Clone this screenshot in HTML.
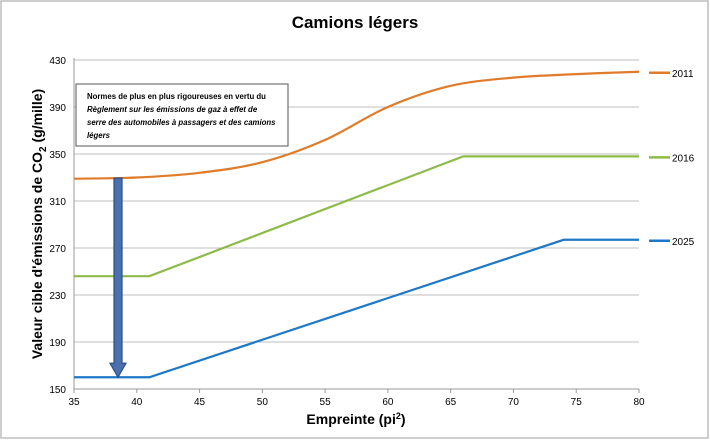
<!DOCTYPE html>
<html><head><meta charset="utf-8"><style>
body{margin:0;background:#fff;font-family:"Liberation Sans",sans-serif}
svg text{font-family:"Liberation Sans",sans-serif}
</style></head><body>
<svg id="chart" width="710" height="440" xmlns="http://www.w3.org/2000/svg">
<rect x="1" y="1" width="707" height="437" fill="#fff" stroke="#bdbdbd" stroke-width="1.5"/>
<text x="355" y="28" text-anchor="middle" font-size="17" font-weight="bold">Camions légers</text>
<g id="grid"></g>
<g id="axes"></g>
<g id="series"></g>
<text transform="translate(42,224) rotate(-90)" text-anchor="middle" font-size="14" font-weight="bold">Valeur cible d'émissions de CO<tspan font-size="10" dy="4">2</tspan><tspan dy="-4"> (g/mille)</tspan></text>
<text x="356" y="424" text-anchor="middle" font-size="14" font-weight="bold">Empreinte (pi<tspan font-size="9" dy="-5">2</tspan><tspan dy="5">)</tspan></text>
<g>
<rect x="76" y="84" width="212" height="62" fill="#fff" stroke="#555" stroke-width="1"/>
<text font-size="7.8" font-weight="bold" fill="#000">
<tspan x="87" y="99">Normes de plus en plus rigoureuses en vertu du</tspan>
<tspan x="87" y="112" font-style="italic">Règlement sur les émissions de gaz à effet de</tspan>
<tspan x="87" y="125" font-style="italic">serre des automobiles à passagers et des camions</tspan>
<tspan x="87" y="138" font-style="italic">légers</tspan>
</text>
</g>
<g id="arrow"></g>
</svg>
<script>
const xTicks=[35,40,45,50,55,60,65,70,75,80];
const yTicks=[150,190,230,270,310,350,390,430];
const seriesNames=["2011","2016","2025"];
const x2011=[35,40,45,50,55,60,65,70,75,80];
const y2011=[329,330,334,343,362,390,408,415,418,420];
const x2016=[35,41,66,80];
const y2016=[246,246,348,348];
const x2025=[35,41,74,80];
const y2025=[160,160,277,277];
const colors=["#e07b2a","#8dbb4a","#1f77c8"];
const NS="http://www.w3.org/2000/svg";
const L=74,R=639,T=60,B=389;
const xs=v=>L+(v-35)/(80-35)*(R-L);
const ys=v=>B-(v-150)/(430-150)*(B-T);
function mk(t,a,p){const e=document.createElementNS(NS,t);for(const k in a)e.setAttribute(k,a[k]);p.appendChild(e);return e;}
const grid=document.getElementById('grid'),axes=document.getElementById('axes'),ser=document.getElementById('series');
yTicks.forEach(v=>{
 const l=mk('line',{x1:L,x2:R,y1:ys(v),y2:ys(v),stroke:'#bfbfbf','stroke-width':1},grid);
 
 
 const t=mk('text',{x:L-8,y:ys(v)+4,'text-anchor':'end','font-size':10},axes);t.textContent=v;
 
 
});
const xa=mk('line',{x1:L,x2:R,y1:B,y2:B,stroke:'#999'},axes);


const ya=mk('line',{x1:L,x2:L,y1:T-2,y2:B,stroke:'#999'},axes);


xTicks.forEach(v=>{
 mk('line',{x1:xs(v),x2:xs(v),y1:B,y2:B+4,stroke:'#999'},axes);
 const t=mk('text',{x:xs(v),y:B+16,'text-anchor':'middle','font-size':10},axes);t.textContent=v;
 
 
});
function smooth(px,py){let d='M'+px[0]+','+py[0];for(let i=0;i<px.length-1;i++){const p0=i>0?i-1:i,p3=i+2<px.length?i+2:i+1;
 const c1x=px[i]+(px[i+1]-px[p0])/6,c1y=py[i]+(py[i+1]-py[p0])/6,c2x=px[i+1]-(px[p3]-px[i])/6,c2y=py[i+1]-(py[p3]-py[i])/6;
 d+=` C${c1x},${c1y} ${c2x},${c2y} ${px[i+1]},${py[i+1]}`;}return d;}
const data=[[x2011,y2011,true],[x2016,y2016,false],[x2025,y2025,false]];
data.forEach((s,i)=>{
 const px=s[0].map(xs),py=s[1].map(ys);
 const d=s[2]?smooth(px,py):'M'+px.map((x,j)=>x+','+py[j]).join(' L');
 const p=mk('path',{d:d,fill:'none',stroke:colors[i],'stroke-width':2.2},ser);
 
 
 const ly=py[py.length-1]+1;
 const ll=mk('line',{x1:649,x2:670,y1:ly,y2:ly,stroke:colors[i],'stroke-width':2.5},ser);
 
 
 const lt=mk('text',{x:672,y:ly+4,'font-size':10},ser);lt.textContent=seriesNames[i];
 
 
});
const ar=document.getElementById('arrow');
const ax=118,arrowTop=ys(y2011[0]+0.5),arrowBot=ys(y2025[0]);
mk('path',{d:`M${ax-4},${arrowTop} L${ax+4},${arrowTop} L${ax+4},${arrowBot-14} L${ax+8},${arrowBot-14} L${ax},${arrowBot} L${ax-8},${arrowBot-14} L${ax-4},${arrowBot-14} Z`,fill:'#4a70b0',stroke:'#2c4f86','stroke-width':1.2},ar);
</script>
</body></html>
